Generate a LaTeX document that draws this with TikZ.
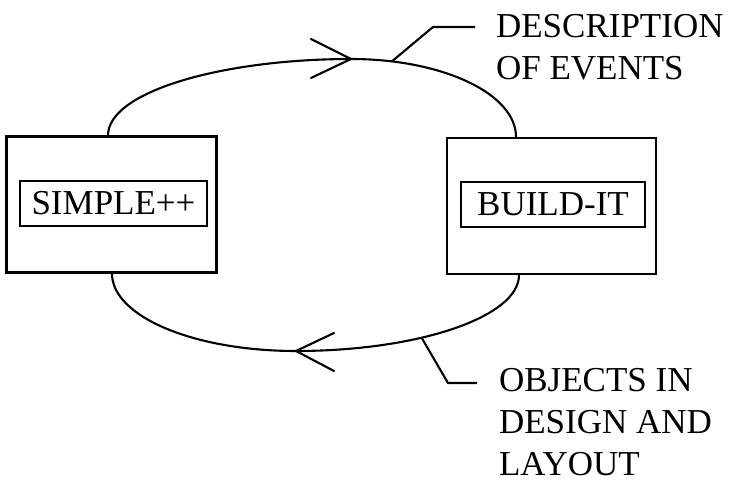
\documentclass[tikz,border=0pt]{standalone}
\usepackage{fontspec}
\setmainfont{Liberation Serif}
\begin{document}
\begin{tikzpicture}[x=1pt,y=-1pt,
  line width=2.1pt,
  outerbox/.style={draw,minimum width=#1,minimum height=136pt,inner sep=0pt},
  innerbox/.style={draw,minimum width=#1,minimum height=45pt,inner sep=0pt,font=\fontsize{35}{42}\selectfont},
  lbl/.style={align=left,inner sep=0pt,font=\fontsize{35}{42}\selectfont},
  wing/.style={line cap=round}]
\useasboundingbox (0,0) rectangle (740,487);
\node[outerbox=210pt] (L) at (111.5,204.5) {};
\node[innerbox=187pt] (Lin) at (113.5,203.5) {SIMPLE++};
\node[outerbox=209pt] (R) at (551.5,206) {};
\node[innerbox=184pt] (Rin) at (553,204.5) {BUILD-IT};
% top connector
\coordinate (tipA) at (351,59);
\draw ([xshift=-3.5pt]L.north) .. controls +(0,-44) and +(-128,0) .. (tipA)
  .. controls +(91,0) and +(0,-43.5) .. ([xshift=-35.5pt]R.north) coordinate[pos=0.155] (legA);
\draw[wing] ([shift={(-40,-20)}]tipA) -- (tipA) -- ([shift={(-40,19)}]tipA);
% bottom connector
\coordinate (tipB) at (296,351);
\draw ([xshift=-32.5pt]R.south) .. controls +(0,42) and +(122,0) .. (tipB) coordinate[pos=0.62] (legB)
  .. controls +(-102,0) and +(0,43) .. ([xshift=0.5pt]L.south);
\draw[wing] ([shift={(38,-18)}]tipB) -- (tipB) -- ([shift={(38,20)}]tipB);
% labels
\node[lbl,anchor=north west] (D) at (495,13) {DESCRIPTION\\OF EVENTS};
\coordinate (kA) at (433,27);
\coordinate (eA) at (475,27);
\draw (legA) -- (kA) -- (eA);
\node[lbl,anchor=north west] (O) at (498,367) {OBJECTS IN\\DESIGN AND\\LAYOUT};
\coordinate (kB) at (448,383);
\coordinate (eB) at (477,383);
\draw (legB) -- (kB) -- (eB);
\end{tikzpicture}
\end{document}
